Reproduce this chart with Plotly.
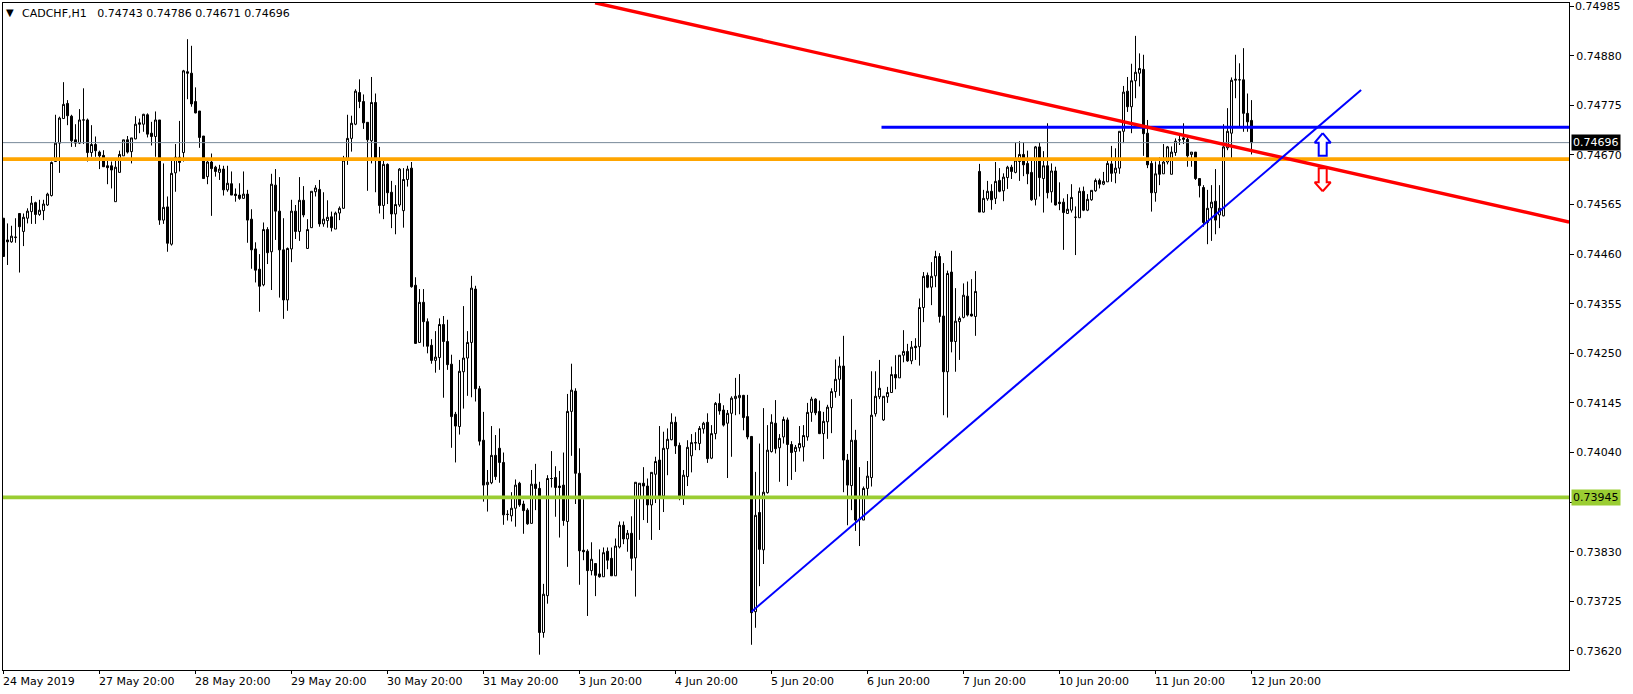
import plotly.graph_objects as go

SYMBOL = "CADCHF,H1"
HEADER_QUOTES = "0.74743 0.74786 0.74671 0.74696"

opens = [
74536,74490,74486,74495,74546,74508,74536,74550,74569,74544,
74552,74564,74584,74656,74695,74747,74779,74752,74702,74695,
74744,74744,74675,74692,74676,74669,74647,74647,74571,74633,
74668,74702,74677,74704,74738,74735,74755,74716,74709,74744,
74532,74560,74481,74632,74665,74675,74846,74843,74783,74763,
74710,74624,74655,74644,74633,74640,74596,74609,74587,74585,
74578,74587,74534,74471,74428,74395,74512,74465,74606,74551,
74469,74363,74471,74551,74508,74574,74472,74516,74592,74597,
74524,74531,74539,74513,74547,74557,74659,74705,74735,74802,
74783,74739,74700,74781,74658,74563,74650,74591,74545,74564,
74552,74618,74642,74394,74273,74358,74317,74267,74235,74241,
74311,74275,74227,74121,74095,74211,74240,74273,74386,74175,
74066,73972,73976,74034,74049,74019,73909,73906,73922,73975,
73931,73918,73890,73973,73964,73659,73737,73985,73987,73969,
73971,73894,74127,74170,73996,73833,73831,73790,73805,73783,
73777,73831,73816,73779,73840,73886,73857,73869,73817,73943,
73975,73969,73929,73994,74024,73948,74048,74067,74104,74055,
73948,73989,74033,74060,74059,74090,74104,74028,74080,74144,
74130,74102,74123,74154,74156,74161,74116,74074,73703,73913,
73834,73955,74042,74102,74050,74073,74109,74057,74042,74050,
74052,74073,74125,74153,74127,74080,74105,74135,74169,74195,
74223,74024,73970,74066,73899,73897,73964,73987,74122,74158,
74109,74158,74167,74205,74198,74246,74254,74234,74265,74264,
74347,74415,74390,74414,74455,74329,74211,74422,74275,74317,
74326,74371,74333,74328,74635,74549,74577,74593,74578,74616,
74594,74622,74644,74633,74656,74671,74652,74633,74576,74687,
74620,74647,74592,74636,74570,74570,74546,74553,74538,74537,
74593,74553,74575,74594,74616,74608,74613,74651,74632,74642,
74720,74805,74772,74827,74843,74851,74716,74652,74590,74649,
74630,74655,74629,74675,74702,74706,74703,74671,74676,74620,
74601,74527,74558,74572,74543,74541,74685,74716,74828,74829,
74829,74758,74743]

highs = [
74536,74525,74520,74536,74546,74546,74557,74583,74571,74575,
74575,74590,74656,74755,74751,74824,74786,74755,74735,74767,
74811,74747,74733,74709,74679,74680,74663,74656,74659,74679,
74702,74710,74706,74752,74747,74757,74758,74740,74762,74744,
74652,74582,74659,74693,74742,74850,74915,74901,74813,74763,
74710,74658,74673,74647,74649,74647,74647,74635,74599,74610,
74635,74596,74555,74485,74460,74527,74517,74630,74640,74623,
74536,74474,74575,74564,74623,74604,74534,74593,74606,74617,
74591,74574,74550,74550,74561,74668,74755,74753,74809,74830,
74798,74739,74835,74800,74687,74658,74652,74615,74606,74642,
74642,74647,74655,74411,74386,74386,74324,74280,74297,74324,
74329,74321,74247,74126,74236,74350,74297,74414,74393,74181,
74126,74003,74096,74077,74091,74040,73918,73956,73983,73978,
73938,73922,74003,74016,73978,73762,73992,74043,74011,74001,
74040,74164,74228,74176,74049,73941,73835,73850,73805,73835,
73839,73839,73839,73858,73894,73894,73876,73905,73977,73975,
74009,73985,73998,74031,74096,74084,74091,74123,74116,74061,
74003,74066,74079,74083,74096,74105,74123,74098,74147,74165,
74140,74130,74159,74198,74206,74162,74162,74075,73999,74059,
74134,74098,74121,74151,74079,74116,74114,74064,74056,74096,
74098,74145,74158,74155,74150,74126,74141,74176,74237,74243,
74287,74037,74153,74088,74009,73968,74022,74212,74212,74236,
74159,74179,74222,74246,74246,74299,74270,74276,74282,74366,
74422,74421,74443,74467,74462,74441,74425,74467,74388,74328,
74398,74402,74407,74424,74651,74596,74615,74608,74655,74642,
74631,74647,74649,74696,74699,74697,74679,74661,74689,74696,
74678,74737,74652,74645,74612,74578,74587,74608,74561,74601,
74603,74587,74595,74620,74620,74634,74659,74689,74684,74720,
74816,74835,74863,74922,74885,74882,74744,74659,74656,74665,
74693,74689,74688,74705,74714,74737,74710,74676,74676,74620,
74606,74596,74606,74640,74606,74735,74769,74834,74882,74864,
74896,74800,74786]

lows = [
74455,74437,74484,74484,74421,74477,74525,74524,74524,74541,
74532,74562,74582,74656,74632,74747,74733,74687,74687,74693,
74693,74656,74666,74666,74640,74645,74608,74599,74571,74633,
74668,74673,74652,74703,74716,74719,74707,74690,74666,74522,
74524,74465,74478,74592,74635,74656,74788,74772,74758,74685,
74619,74608,74541,74624,74617,74584,74592,74585,74571,74575,
74578,74484,74429,74400,74338,74392,74439,74384,74490,74368,
74323,74340,74443,74492,74488,74538,74471,74516,74582,74518,
74518,74516,74508,74513,74532,74556,74649,74677,74733,74769,
74725,74594,74652,74591,74546,74534,74566,74515,74502,74560,
74516,74603,74389,74270,74272,74264,74250,74228,74209,74215,
74156,74215,74050,74019,74078,74133,74160,74157,74148,74055,
73936,73915,73973,73982,73976,73887,73896,73894,73883,73925,
73868,73887,73890,73918,73612,73648,73720,73966,73904,73860,
73885,73798,74033,73931,73760,73812,73694,73780,73736,73775,
73777,73793,73779,73779,73837,73846,73830,73790,73735,73855,
73897,73891,73855,73933,73876,73914,73992,74066,74037,73939,
73929,73969,73998,74045,74045,74080,74018,74026,74068,74120,
74095,73986,74031,74119,74121,74087,74068,73633,73669,73757,
73804,73953,74040,74038,73978,74059,73969,73982,73999,74042,
74021,74065,74105,74119,74079,74026,74069,74081,74156,74160,
73956,73886,73918,73874,73842,73897,73946,73968,74116,74153,
74107,74145,74167,74174,74198,74231,74232,74227,74236,74224,
74316,74388,74352,74390,74315,74119,74114,74252,74211,74236,
74324,74328,74328,74287,74549,74548,74573,74554,74566,74591,
74572,74598,74619,74631,74615,74625,74608,74573,74563,74582,
74548,74578,74569,74563,74553,74469,74545,74548,74458,74537,
74551,74551,74573,74592,74599,74606,74613,74613,74610,74630,
74695,74761,74716,74790,74815,74668,74642,74550,74571,74606,
74630,74650,74629,74668,74691,74693,74645,74645,74617,74580,
74518,74481,74488,74502,74515,74540,74680,74663,74790,74730,
74719,74719,74671]

closes = [
74455,74486,74498,74496,74518,74538,74551,74568,74544,74553,
74566,74587,74654,74695,74748,74777,74753,74700,74695,74744,
74744,74675,74692,74679,74668,74645,74643,74638,74644,74671,
74702,74676,74706,74735,74735,74756,74714,74709,74744,74532,
74559,74483,74631,74665,74654,74848,74843,74778,74759,74707,
74620,74655,74641,74635,74640,74596,74610,74585,74584,74578,
74587,74532,74469,74426,74392,74512,74463,74608,74551,74469,
74363,74472,74551,74508,74574,74543,74512,74593,74600,74524,
74534,74538,74516,74547,74557,74659,74705,74737,74805,74783,
74738,74702,74781,74658,74563,74650,74590,74545,74565,74640,
74618,74640,74391,74271,74358,74317,74265,74235,74242,74311,
74275,74226,74116,74096,74212,74240,74273,74388,74175,74064,
73971,73977,74034,73989,74019,73908,73909,73922,73971,73929,
73917,73889,73973,73964,73659,73740,73985,73985,73966,73966,
73896,74127,74172,73996,73832,73830,73790,73814,73780,73777,
73828,73812,73779,73842,73886,73857,73869,73816,73977,73975,
73969,73929,73998,74021,73948,74049,74068,74104,74054,73946,
73992,74051,74061,74061,74091,74102,74027,74080,74144,74128,
74098,74123,74155,74159,74161,74114,74073,73701,73907,73835,
73956,74045,74104,74048,74070,74110,74057,74040,74051,74059,
74076,74125,74153,74124,74080,74106,74136,74169,74195,74223,
74024,73971,74066,73897,73898,73964,73990,74119,74159,74176,
74159,74167,74205,74198,74246,74254,74234,74263,74262,74347,
74413,74390,74413,74455,74328,74211,74419,74275,74318,74324,
74373,74331,74329,74381,74549,74578,74593,74575,74614,74593,
74623,74644,74635,74659,74671,74649,74630,74575,74687,74622,
74647,74590,74636,74564,74567,74548,74555,74580,74538,74593,
74553,74576,74595,74616,74608,74614,74652,74631,74642,74720,
74803,74772,74827,74845,74853,74715,74649,74590,74630,74629,
74655,74687,74676,74699,74702,74703,74668,74676,74620,74605,
74527,74557,74570,74532,74557,74687,74720,74828,74830,74829,
74758,74740,74696]

price_ticks = [74985,74880,74775,74670,74565,74460,74355,74250,74145,74040,73935,73830,73725,73620]
price_tick_text = ["","0.74880","0.74775","0.74670","0.74565","0.74460","0.74355",
                   "0.74250","0.74145","0.74040","","0.73830","0.73725","0.73620"]
top_price_label = 74985
date_labels = ["24 May 2019","27 May 20:00","28 May 20:00","29 May 20:00","30 May 20:00",
               "31 May 20:00","3 Jun 20:00","4 Jun 20:00","5 Jun 20:00","6 Jun 20:00",
               "7 Jun 20:00","10 Jun 20:00","11 Jun 20:00","12 Jun 20:00"]
date_bars = [0,24,48,72,96,120,144,168,192,216,240,264,288,312]

bid_level = 74696
orange_level = 74661
green_level = 73945
blue_level = 74728.5
blue_level_bars = [219.5, 391.4]
red_trend_bars = [147.9, 391.4]
red_trend_prices = [74992, 74528]
blue_trend_bars = [187, 339.4]
blue_trend_prices = [73703, 74807.5]
up_arrow_bars = [329.8,331.8,330.8,330.8,328.8,328.8,327.8,329.8]
up_arrow_prices = [74716,74696,74696,74668,74668,74696,74696,74716]
down_arrow_bars = [329.8,331.8,330.8,330.8,328.8,328.8,327.8,329.8]
down_arrow_prices = [74593,74612,74612,74642,74642,74612,74612,74593]

def pr(seq):
    return [v / 100000 for v in seq]

FONT = "DejaVu Sans"
bars = list(range(len(opens)))
fig = go.Figure()
fig.add_trace(go.Candlestick(
    x=bars, open=pr(opens), high=pr(highs), low=pr(lows), close=pr(closes),
    increasing=dict(line=dict(color="black", width=1), fillcolor="white"),
    decreasing=dict(line=dict(color="black", width=1), fillcolor="black"),
    whiskerwidth=0, hoverinfo="skip", showlegend=False))

XMAX = 391.375
def line(xs, ys, color, width):
    fig.add_trace(go.Scatter(x=xs, y=pr(ys), mode="lines", line=dict(color=color, width=width),
                             hoverinfo="skip", showlegend=False))

line([-0.125, XMAX], [bid_level, bid_level], "#778899", 1)
line([-0.125, XMAX], [orange_level, orange_level], "#FFA500", 3.6)
line([-0.125, XMAX], [green_level, green_level], "#9ACD32", 3.6)
line(blue_level_bars, [blue_level, blue_level], "#0000FF", 3)
line(red_trend_bars, red_trend_prices, "#FF0000", 3.4)
line(blue_trend_bars, blue_trend_prices, "#0000FF", 2)
for xs, ys, c in [(up_arrow_bars, up_arrow_prices, "#0000FF"), (down_arrow_bars, down_arrow_prices, "#FF0000")]:
    fig.add_trace(go.Scatter(x=xs, y=pr(ys), mode="lines", fill="toself", fillcolor="white",
                             line=dict(color=c, width=2), hoverinfo="skip", showlegend=False))

annotations = []
for b, t in zip(date_bars, date_labels):
    annotations.append(dict(x=b - 0.1, y=-0.0175, xref="x", yref="paper", text=t, showarrow=False,
                            xanchor="left", yanchor="middle", xshift=-2, align="left",
                            font=dict(family=FONT, size=11, color="black")))
annotations.append(dict(x=21/1566, y=1.0, xref="paper", yref="paper", text="%s   %s" % (SYMBOL, HEADER_QUOTES),
                        showarrow=False, xanchor="left", yanchor="top", yshift=-3, xshift=-3,
                        font=dict(family=FONT, size=11, color="black"), borderpad=0))
annotations.append(dict(x=0.0, y=1.0, xref="paper", yref="paper", text="▼", showarrow=False,
                        xanchor="left", yanchor="top", xshift=2, yshift=-3,
                        font=dict(family=FONT, size=10, color="black"), borderpad=0))
annotations.append(dict(x=1.0, y=top_price_label/100000, xref="paper", yref="y",
                        text="%.5f" % (top_price_label/100000), showarrow=False, xanchor="left",
                        yanchor="middle", xshift=5, font=dict(family=FONT, size=11, color="black"), borderpad=0))
for lvl, bg, fg in [(bid_level, "black", "white"), (green_level, "#9ACD32", "black")]:
    annotations.append(dict(x=1.0, y=lvl/100000, xref="paper", yref="y", text="%.5f" % (lvl/100000),
                            showarrow=False, xanchor="left", yanchor="middle", xshift=2, bgcolor=bg,
                            font=dict(family=FONT, size=11, color=fg), borderpad=1))

fig.update_layout(
    width=1633, height=694, margin=dict(l=3, r=64, t=3, b=24, autoexpand=False),
    paper_bgcolor="white", plot_bgcolor="white", boxgap=0.5, boxgroupgap=0.0,
    annotations=annotations, showlegend=False, hovermode=False,
    xaxis=dict(range=[-0.125, XMAX], rangeslider=dict(visible=False), showgrid=False, zeroline=False,
               tickmode="array", tickvals=date_bars, ticktext=[""]*len(date_bars), ticks="outside",
               ticklen=3, tickcolor="black", showline=True, linecolor="black", linewidth=1, mirror=True),
    yaxis=dict(range=[0.735796, 0.749916], side="right", showgrid=False, zeroline=False,
               tickmode="array", tickvals=pr(price_ticks), ticktext=price_tick_text,
               ticks="outside", ticklen=4, tickcolor="black", tickfont=dict(family=FONT, size=11, color="black"),
               showline=True, linecolor="black", linewidth=1, mirror=True),
)
fig.write_html("out.html", config=dict(displayModeBar=False),
               post_script="document.body.style.margin='0';document.body.style.overflow='hidden';")
